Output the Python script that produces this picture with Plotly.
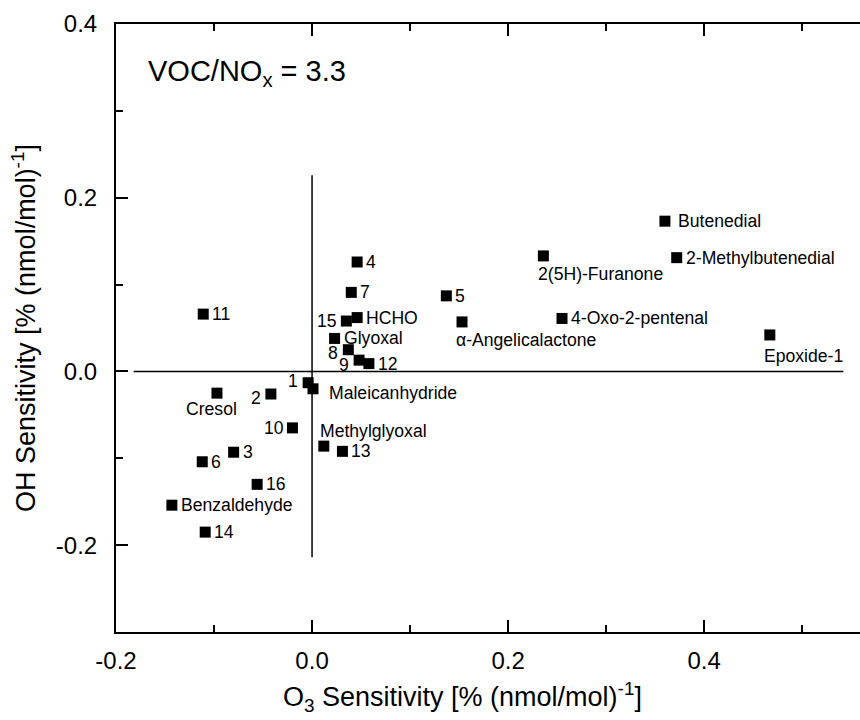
import plotly.graph_objects as go

# ---- data ----
names = ["11", "4", "7", "15", "HCHO", "Glyoxal", "8", "9", "12", "1",
         "Maleicanhydride", "2", "10", "Methylglyoxal", "13", "Cresol", "3", "6",
         "16", "Benzaldehyde", "14", "5", "α-Angelicalactone", "2(5H)-Furanone",
         "4-Oxo-2-pentenal", "Butenedial", "2-Methylbutenedial", "Epoxide-1"]
o3_sens = [-0.111, 0.046, 0.040, 0.035, 0.046, 0.023, 0.037, 0.048, 0.058, -0.004,
           0.001, -0.042, -0.020, 0.012, 0.031, -0.097, -0.080, -0.112,
           -0.056, -0.143, -0.109, 0.137, 0.153, 0.236,
           0.255, 0.360, 0.372, 0.467]
oh_sens = [0.066, 0.126, 0.091, 0.058, 0.062, 0.038, 0.025, 0.013, 0.009, -0.013,
           -0.020, -0.026, -0.065, -0.086, -0.092, -0.025, -0.093, -0.104,
           -0.130, -0.154, -0.185, 0.087, 0.057, 0.133,
           0.061, 0.173, 0.131, 0.042]
# reference cross lines (x=0 and y=0 segments)
vline_x = [0.0, 0.0]
vline_y = [0.226, -0.214]
hline_x = [-0.182, 0.542]
hline_y = [0.0, 0.0]
x_ticks = [-0.2, 0.0, 0.2, 0.4]
x_ticktext = ["-0.2", "0.0", "0.2", "0.4"]
y_ticks = [-0.2, 0.0, 0.2, 0.4]
y_ticktext = ["-0.2", "0.0", "0.2", "0.4"]
ratio_text = "VOC/NO<sub>x</sub> = 3.3"
x_title = "O<sub>3</sub> Sensitivity [% (nmol/mol)<sup>-1</sup>]"
y_title = "OH Sensitivity [% (nmol/mol)<sup>-1</sup>]"

# ---- label placement (style) ----
FONT = "Liberation Sans, Arial, sans-serif"
place = {
    "15": ("right", -7, 0), "8": ("right", -8, -3), "9": ("right", -8, -5),
    "1": ("right", -8, 2), "2": ("right", -8, -4), "10": ("right", -6, 0),
    "Maleicanhydride": ("left", 14, -4), "Butenedial": ("left", 11, 0),
    "Methylglyoxal": ("left", -6, 15), "Cresol": ("center", -5, -16),
    "α-Angelicalactone": ("left", -8, -18), "2(5H)-Furanone": ("left", -7, -18),
    "Epoxide-1": ("left", -8, -21),
}

fig = go.Figure()
fig.add_trace(go.Scatter(x=vline_x, y=vline_y, mode="lines",
                         line=dict(color="black", width=1.5), hoverinfo="skip"))
fig.add_trace(go.Scatter(x=hline_x, y=hline_y, mode="lines",
                         line=dict(color="black", width=1.5), hoverinfo="skip"))
fig.add_trace(go.Scatter(x=o3_sens, y=oh_sens, mode="markers", text=names,
                         marker=dict(symbol="square", size=11, color="black",
                                     line=dict(width=0))))

annotations = []
for n, xv, yv in zip(names, o3_sens, oh_sens):
    anchor, dx, dy = place.get(n, ("left", 7, 0))
    annotations.append(dict(x=xv, y=yv, xref="x", yref="y", text=n, showarrow=False,
                            xanchor=anchor, yanchor="middle", xshift=dx, yshift=dy,
                            font=dict(family=FONT, size=17.6, color="black")))
annotations.append(dict(x=0.04, y=0.92, xref="paper", yref="paper", text=ratio_text,
                        showarrow=False, xanchor="left", yanchor="middle",
                        font=dict(family=FONT, size=29, color="black")))
annotations.append(dict(x=0.466, y=0, xref="paper", yref="paper", text=x_title,
                        showarrow=False, xanchor="center", yanchor="top", yshift=-44,
                        font=dict(family=FONT, size=27, color="black")))

axis_common = dict(showline=True, linecolor="black", linewidth=2, ticks="inside",
                   ticklen=12, tickwidth=2, tickcolor="black", showgrid=False,
                   zeroline=False,
                   tickfont=dict(family=FONT, size=24, color="black"),
                   minor=dict(ticks="inside", ticklen=7, tickwidth=2, tickcolor="black",
                              dtick=0.1, showgrid=False))

fig.update_layout(
    width=860, height=720,
    margin=dict(l=116, r=0, t=24, b=88),
    paper_bgcolor="white", plot_bgcolor="white",
    showlegend=False,
    annotations=annotations,
    xaxis=dict(range=[-0.2, 0.559], tickvals=x_ticks, ticktext=x_ticktext,
               mirror="ticks", ticklabelstandoff=6, **axis_common),
    yaxis=dict(range=[-0.3, 0.4], tickvals=y_ticks, ticktext=y_ticktext, mirror=False,
               ticklabelstandoff=12,
               title=dict(text=y_title,
                          font=dict(family=FONT, size=27, color="black"), standoff=12),
               **axis_common),
)

fig.write_html("out.html")
